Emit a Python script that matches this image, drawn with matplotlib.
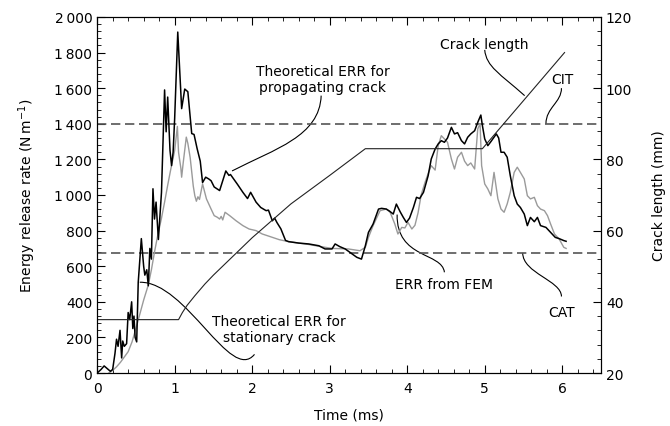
import matplotlib
matplotlib.use("Agg")
from matplotlib import pyplot as plt
from matplotlib.path import Path
from matplotlib.patches import PathPatch
from matplotlib.ticker import MultipleLocator, FuncFormatter

plt.rcParams['font.family'] = ['DejaVu Sans']
plt.rcParams['font.size'] = 10

# ERR curve (black)
t_black = [0.00, 0.05, 0.09, 0.13, 0.17, 0.20, 0.23, 0.25, 0.27, 0.295, 0.316, 0.33, 0.35,
           0.38, 0.40, 0.42, 0.445, 0.46, 0.475, 0.49, 0.51, 0.53, 0.57, 0.60, 0.615, 0.64,
           0.66, 0.68, 0.70, 0.72, 0.74, 0.76, 0.79, 0.83, 0.87, 0.89, 0.91, 0.94, 0.96,
           0.98, 1.00, 1.04, 1.09, 1.13, 1.17, 1.22, 1.25, 1.29, 1.33, 1.36, 1.40, 1.44,
           1.47, 1.51, 1.58, 1.66, 1.70, 1.72, 1.81, 1.88, 1.94, 1.98, 2.05, 2.11, 2.18,
           2.21, 2.26, 2.29, 2.32, 2.37, 2.43, 2.47, 2.60, 2.73, 2.86, 2.94, 3.03, 3.07,
           3.13, 3.20, 3.29, 3.35, 3.41, 3.46, 3.50, 3.56, 3.63, 3.67, 3.73, 3.77, 3.82,
           3.86, 3.91, 3.95, 3.99, 4.03, 4.08, 4.12, 4.16, 4.21, 4.27, 4.31, 4.36, 4.40,
           4.44, 4.48, 4.52, 4.57, 4.61, 4.65, 4.70, 4.74, 4.78, 4.82, 4.87, 4.91, 4.95,
           4.97, 5.00, 5.04, 5.08, 5.15, 5.18, 5.21, 5.25, 5.29, 5.33, 5.38, 5.42, 5.46,
           5.51, 5.55, 5.59, 5.64, 5.68, 5.72, 5.79, 5.85, 5.91, 5.96, 6.02, 6.05]
err_black = [0, 20, 40, 25, 10, 20, 110, 190, 150, 240, 85, 180, 150,
             165, 340, 300, 400, 250, 320, 200, 175, 510, 755, 600, 550, 580,
             490, 700, 640, 1035, 865, 960, 750, 1015, 1590, 1355, 1550, 1250, 1165,
             1240, 1430, 1915, 1485, 1595, 1580, 1345, 1340, 1260, 1190, 1070, 1100, 1090,
             1080, 1045, 1025, 1135, 1110, 1115, 1060, 1015, 980, 1015, 960, 930, 912,
             915, 855, 870, 845, 810, 745, 738, 730, 725, 715, 697, 697, 725,
             710, 697, 669, 650, 640, 715, 790, 837, 921, 925, 921, 910, 893,
             949, 905, 874, 846, 870, 930, 987, 980, 1015, 1108, 1202, 1258, 1287,
             1305, 1296, 1320, 1380, 1343, 1350, 1305, 1287, 1324, 1343, 1361, 1408, 1449,
             1390, 1315, 1277, 1300, 1343, 1320, 1240, 1240, 1212, 1108, 996, 949, 930,
             893, 828, 874, 850, 874, 828, 818, 790, 762, 755, 744, 740]

# ERR curve (grey)
t_grey = [0.15, 0.20, 0.25, 0.30, 0.35, 0.40, 0.45, 0.50, 0.55, 0.60, 0.66, 0.70, 0.74,
          0.78, 0.83, 0.87, 0.91, 0.95, 1.00, 1.035, 1.05, 1.08, 1.09, 1.11, 1.15, 1.17,
          1.20, 1.24, 1.26, 1.28, 1.30, 1.32, 1.36, 1.41, 1.47, 1.51, 1.55, 1.58, 1.60,
          1.62, 1.65, 1.71, 1.79, 1.88, 1.96, 2.05, 2.13, 2.22, 2.35, 2.47, 2.60, 2.73,
          2.86, 3.03, 3.24, 3.39, 3.46, 3.50, 3.56, 3.65, 3.73, 3.78, 3.84, 3.88, 3.93,
          3.97, 4.01, 4.06, 4.10, 4.14, 4.18, 4.23, 4.27, 4.31, 4.36, 4.40, 4.44, 4.48,
          4.52, 4.57, 4.61, 4.65, 4.70, 4.74, 4.78, 4.82, 4.87, 4.91, 4.94, 4.96, 5.00,
          5.04, 5.08, 5.12, 5.17, 5.21, 5.25, 5.29, 5.33, 5.38, 5.42, 5.46, 5.51, 5.55,
          5.59, 5.64, 5.68, 5.72, 5.77, 5.81, 5.85, 5.90, 5.96, 6.02, 6.05]
err_grey = [0, 15, 35, 60, 90, 120, 175, 250, 330, 410, 495, 580, 680,
            770, 870, 960, 1055, 1145, 1250, 1385, 1240, 1150, 1100, 1180, 1325, 1290,
            1210, 1050, 996, 965, 990, 975, 1062, 978, 921, 884, 875, 865, 880,
            860, 903, 884, 856, 828, 809, 800, 781, 768, 749, 738, 730, 722,
            712, 700, 697, 687, 706, 762, 828, 912, 921, 903, 837, 781, 818,
            815, 846, 809, 830, 900, 1000, 1071, 1120, 1165, 1140, 1277, 1333, 1315,
            1296, 1202, 1146, 1212, 1240, 1190, 1165, 1180, 1146, 1371, 1400, 1165, 1062,
            1034, 996, 1127, 978, 921, 903, 950, 1015, 1127, 1156, 1127, 1090, 996,
            978, 987, 940, 921, 912, 884, 837, 781, 753, 706, 700]

# crack length (right axis)
t_crack = [0.0, 1.05, 1.10, 1.16, 1.26, 1.39, 1.5, 2.0, 2.5, 3.0, 3.46, 4.97, 5.5, 6.03]
crack_len = [35, 35, 37, 39, 41.7, 45, 47.5, 58, 67.5, 75.5, 83, 83, 96.5, 110]

# critical values
cit = 1400
cat = 675


def leader(ax, pts):
    codes = [Path.MOVETO, Path.CURVE4, Path.CURVE4, Path.CURVE4]
    ax.add_patch(PathPatch(Path(pts, codes), fc='none', ec='black', lw=0.8))


def thousands(v, pos):
    v = int(round(v))
    if v >= 1000:
        return '%d\u2009%03d' % (v // 1000, v % 1000)
    return str(v)


fig, ax = plt.subplots(figsize=(6.7, 4.27), dpi=100)
fig.subplots_adjust(left=0.145, right=0.897, bottom=0.124, top=0.958)

ax.axhline(cit, color='#555555', lw=1.2, ls=(0, (5.6, 2.8)))
ax.axhline(cat, color='#555555', lw=1.2, ls=(0, (5.6, 2.8)))
ax.plot(t_grey, err_grey, color='#9a9a9a', lw=1.0)
ax.plot(t_black, err_black, color='black', lw=1.1)

ax.set_xlim(0, 6.5)
ax.set_ylim(0, 2000)
ax.xaxis.set_major_locator(MultipleLocator(1))
ax.xaxis.set_minor_locator(MultipleLocator(0.2))
ax.yaxis.set_major_locator(MultipleLocator(200))
ax.yaxis.set_minor_locator(MultipleLocator(40))
ax.yaxis.set_major_formatter(FuncFormatter(thousands))
ax.tick_params(which='both', direction='in', top=True, right=False)
ax.tick_params(which='major', length=5.5)
ax.tick_params(which='minor', length=3)
ax.tick_params(axis='x', pad=6)
ax.set_xlabel('Time (ms)', labelpad=9)
ax.set_ylabel('Energy release rate (N\u2009m$^{-1}$)', labelpad=12)

ax2 = ax.twinx()
ax2.plot(t_crack, crack_len, color='#222222', lw=0.8)
ax2.set_ylim(20, 120)
ax2.yaxis.set_major_locator(MultipleLocator(20))
ax2.yaxis.set_minor_locator(MultipleLocator(4))
ax2.tick_params(which='both', direction='in')
ax2.tick_params(which='major', length=5.5)
ax2.tick_params(which='minor', length=3)
ax2.set_ylabel('Crack length (mm)', labelpad=14)

# labels and leader lines
ax.text(2.91, 1652, 'Theoretical ERR for\npropagating crack', ha='center', va='center',
        linespacing=1.15)
leader(ax, [(2.89, 1558), (2.87, 1330), (2.3, 1260), (1.74, 1135)])

ax.text(2.35, 247, 'Theoretical ERR for\nstationary crack', ha='center', va='center',
        linespacing=1.15)
leader(ax, [(0.55, 510), (1.15, 515), (1.72, -60), (2.03, 105)])

ax.text(4.48, 500, 'ERR from FEM', ha='center', va='center')
leader(ax, [(4.48, 566), (4.45, 680), (3.86, 640), (3.87, 890)])

ax.text(5.0, 1848, 'Crack length', ha='center', va='center')
leader(ax, [(5.0, 1815), (5.02, 1720), (5.2, 1680), (5.515, 1558)])

ax.text(6.0, 1652, 'CIT', ha='center', va='center')
leader(ax, [(5.99, 1600), (5.99, 1520), (5.79, 1490), (5.79, 1400)])

ax.text(5.99, 343, 'CAT', ha='center', va='center')
leader(ax, [(5.99, 430), (5.99, 520), (5.49, 560), (5.49, 675)])

fig.savefig('out.png', dpi=100)
